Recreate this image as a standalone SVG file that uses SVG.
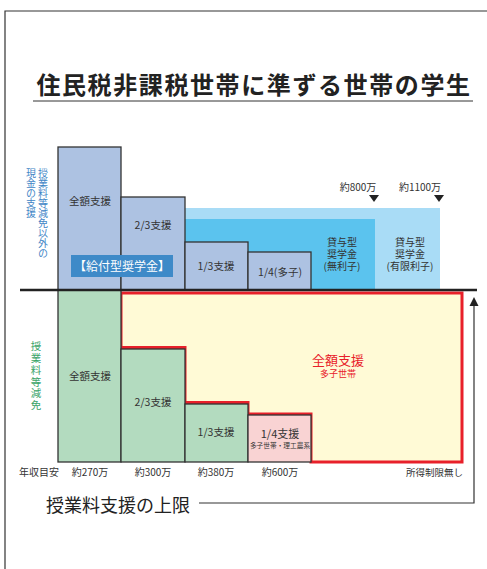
<svg xmlns="http://www.w3.org/2000/svg" width="487" height="569" viewBox="0 0 487 569">
<style>
text{font-family:"Noto Sans CJK JP","Noto Sans",sans-serif;fill:#333}
.bar{stroke:#333;stroke-width:1.3}
.blue{fill:#adc2e2}
.green{fill:#b3dbbf}
.lbl{font-size:10.5px;text-anchor:middle}
.ax{font-size:10px;text-anchor:middle}
.vb{font-size:10px;fill:#3f86c6;writing-mode:vertical-rl}
.vg{font-size:10.5px;fill:#3aa468;writing-mode:vertical-rl;letter-spacing:1.3px}
</style>
<rect width="487" height="569" fill="#fff"/>
<g id="frame" fill="none" stroke="#333" stroke-width="1.2">
<path d="M5,569 V11 H487"/>
</g>
<g id="title">
<text x="254" y="94" font-size="24" font-weight="bold" text-anchor="middle" letter-spacing="1.6" style="fill:#222">住民税非課税世帯に準ずる世帯の学生</text>
<line x1="33" y1="101" x2="473" y2="101" stroke="#333" stroke-width="1"/>
</g>
<g id="loan-bands">
<rect x="185" y="208" width="255" height="82" fill="#a9dcf6"/>
<rect x="185" y="219" width="190" height="71" fill="#5bc3ee"/>
<text class="lbl"><tspan x="342" y="246" font-size="10">貸与型</tspan><tspan x="342" y="258" font-size="10">奨学金</tspan><tspan x="342" y="270" font-size="10">(無利子)</tspan></text>
<text class="lbl"><tspan x="410" y="246" font-size="10">貸与型</tspan><tspan x="410" y="258" font-size="10">奨学金</tspan><tspan x="410" y="270" font-size="10">(有限利子)</tspan></text>
<text class="ax" x="358" y="191">約800万</text>
<path d="M369,195 H379 L374,202 Z" fill="#222"/>
<text class="ax" x="420" y="191">約1100万</text>
<path d="M434,195 H444 L439,202 Z" fill="#222"/>
</g>
<g id="upper-bars">
<rect class="bar blue" x="58" y="147" width="63" height="143"/>
<rect class="bar blue" x="121" y="197" width="64" height="93"/>
<rect class="bar blue" x="185" y="242" width="63" height="48"/>
<rect class="bar blue" x="248" y="252" width="63" height="38"/>
<text class="lbl" x="90" y="205">全額支援</text>
<text class="lbl" x="153" y="229">2/3支援</text>
<text class="lbl" x="216" y="270">1/3支援</text>
<text class="lbl" x="280" y="276">1/4(多子)</text>
<rect x="71" y="255" width="102" height="22" fill="#3e8ac8"/>
<text x="122" y="271" font-size="12" text-anchor="middle" style="fill:#fff">【給付型奨学金】</text>
</g>
<g id="upper-label">
<text class="vb" x="43" y="168">授業料等減免以外の</text>
<text class="vb" x="31" y="168">現金の支援</text>
</g>
<g id="lower-bars">
<path d="M121,293 H462 V462 H311 V414 H248 V402.5 H185 V347.5 H121 Z" fill="#fffad6" stroke="#e8202a" stroke-width="3"/>
<rect class="bar green" x="58" y="290" width="63" height="172"/>
<rect class="bar green" x="121" y="349" width="64" height="113"/>
<rect class="bar green" x="185" y="404" width="63" height="58"/>
<rect class="bar" x="248" y="415" width="63" height="47" fill="#f9d3d3"/>
<text class="lbl" x="90" y="380">全額支援</text>
<text class="lbl" x="153" y="406">2/3支援</text>
<text class="lbl" x="216" y="436">1/3支援</text>
<text x="280" y="438" font-size="11" text-anchor="middle">1/4支援</text>
<text x="280" y="448" font-size="6.7" text-anchor="middle">多子世帯・理工農系</text>
<text x="338" y="365" font-size="13" text-anchor="middle" style="fill:#e8202a">全額支援</text>
<text x="338" y="377" font-size="9" text-anchor="middle" style="fill:#e8202a">多子世帯</text>
</g>
<g id="lower-label">
<text class="vg" x="36" y="341">授業料等減免</text>
</g>
<g id="axis">
<line x1="20" y1="290" x2="477" y2="290" stroke="#222" stroke-width="2.5"/>
<text class="ax" x="39" y="476" font-size="9.5">年収目安</text>
<text class="ax" x="90" y="476">約270万</text>
<text class="ax" x="153" y="476">約300万</text>
<text class="ax" x="216" y="476">約380万</text>
<text class="ax" x="280" y="476">約600万</text>
<text x="463" y="476" font-size="9.5" text-anchor="end">所得制限無し</text>
</g>
<g id="connectors">
<path d="M474,305 V503 H199" fill="none" stroke="#333" stroke-width="1.2"/>
<path d="M474,297 L478.5,306 H469.5 Z" fill="#222"/>
</g>
<g id="limit-label">
<text x="46" y="512" font-size="18" style="fill:#222">授業料支援の上限</text>
</g>
</svg>
